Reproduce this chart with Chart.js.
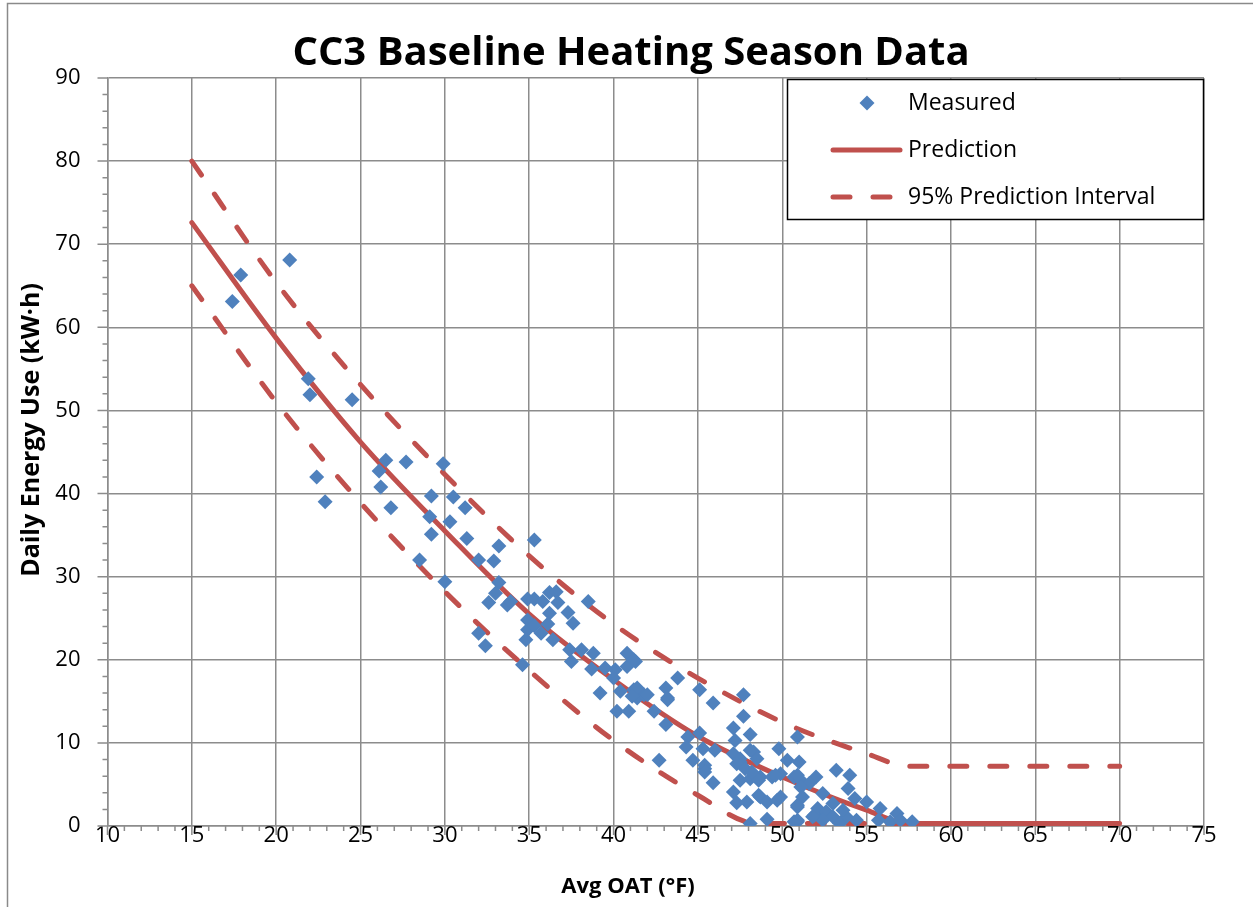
<!DOCTYPE html>
<html>
<head>
<meta charset="utf-8">
<script src="https://cdn.jsdelivr.net/npm/chart.js@4.4.1/dist/chart.umd.min.js"></script>
<style>
html,body{margin:0;padding:0;background:#fff;}
#wrap{width:1253px;height:907px;position:relative;}
</style>
</head>
<body>
<div id="wrap"><canvas id="c" width="1253" height="907"></canvas></div>
<script>
// ---- Data ----
const measuredX = [17.4,17.9,20.8,21.9,22.0,24.5,22.4,22.9,26.5,26.1,
27.7,26.2,26.8,29.2,29.1,29.2,29.9,30.5,31.2,30.3,
31.3,33.2,35.3,28.5,32.0,32.9,30.0,33.2,33.0,32.6,
33.7,33.9,34.9,35.3,35.8,36.2,36.6,36.7,36.2,37.3,
37.6,38.5,34.9,34.9,35.3,35.7,36.1,34.8,36.4,32.0,
32.4,34.6,37.4,38.1,38.8,37.5,38.7,39.5,40.1,40.8,
41.3,40.8,40.0,39.2,40.4,41.2,41.4,41.8,40.2,40.9,
41.2,41.4,41.1,42.0,42.4,43.1,43.1,43.2,43.8,45.1,
45.9,47.7,47.7,47.1,48.1,44.4,45.1,44.3,45.3,46.0,
44.7,42.7,45.4,45.9,47.1,47.5,48.3,48.5,49.8,50.3,
51.0,50.9,52.0,53.2,47.5,48.1,48.7,49.4,49.9,50.7,
51.1,51.6,52.4,47.1,47.3,47.9,48.7,49.1,49.7,49.9,
50.9,50.9,51.9,52.6,48.1,49.1,45.4,45.4,47.2,47.5,
48.1,47.3,47.8,48.2,48.6,49.6,48.6,54.0,53.9,54.3,
55.0,55.8,56.8,55.7,56.4,57.7,57.0,54.4,53.8,50.9,
51.1,51.2,50.9,52.1,52.6,53.0,53.4,52.4,51.8,50.9,
53.0,53.6,50.7,43.2];
const measuredY = [63.1,66.3,68.1,53.8,51.9,51.3,42.0,39.0,44.0,42.7,
43.8,40.8,38.3,39.7,37.2,35.1,43.6,39.6,38.3,36.6,
34.6,33.7,34.4,32.0,32.0,31.9,29.4,29.3,28.0,26.9,
26.6,27.0,27.3,27.3,27.0,28.1,28.2,26.9,25.6,25.7,
24.4,27.0,24.8,23.6,24.1,23.2,24.3,22.4,22.4,23.2,
21.7,19.4,21.2,21.2,20.8,19.8,18.9,19.0,18.8,20.8,
19.8,19.2,17.8,16.0,16.2,16.4,15.4,15.8,13.8,13.8,
20.0,16.6,15.6,15.8,13.8,12.2,16.6,15.4,17.8,16.4,
14.8,15.8,13.2,11.8,11.0,10.7,11.2,9.5,9.3,9.1,
7.9,7.9,6.9,5.2,8.7,7.7,8.9,8.1,9.3,7.9,
7.7,10.7,5.9,6.7,5.5,5.7,5.9,5.9,6.3,5.9,
5.5,5.1,3.9,4.1,2.8,2.9,3.5,2.9,3.1,3.5,
2.3,0.7,1.3,1.5,0.3,0.8,7.3,6.5,10.3,8.1,
9.1,7.5,6.9,6.5,5.5,6.1,3.7,6.1,4.5,3.3,
2.9,2.1,1.5,0.7,0.5,0.5,0.7,0.7,1.1,6.1,
4.7,3.5,2.5,2.1,1.7,1.1,0.3,0.7,1.1,0.5,
2.7,1.9,0.5,15.2];

const predictionX = [15, 20, 25, 30, 35, 40, 45, 50, 55, 57.5, 70];
const predictionY = [72.6, 58.7, 46.2, 35.5, 25.5, 17.6, 10.8, 5.9, 1.9, 0.3, 0.3];

const upperX = [15, 20, 25, 30, 35, 40, 45, 50, 55, 57.5, 70];
const upperY = [80.0, 65.4, 53.1, 42.3, 32.5, 24.3, 17.8, 12.5, 8.7, 7.2, 7.2];

const lowerX = [15, 20, 25, 30, 35, 40, 45, 48.5, 70];
const lowerY = [65.0, 51.0, 38.9, 28.2, 18.7, 10.3, 3.7, 0.3, 0.3];

const xTickValues = [10, 15, 20, 25, 30, 35, 40, 45, 50, 55, 60, 65, 70, 75];
const yTickValues = [0, 10, 20, 30, 40, 50, 60, 70, 80, 90];

const titleText = 'CC3 Baseline Heating Season Data';
const xTitle = 'Avg OAT (°F)';
const yTitle = 'Daily Energy Use (kW·h)';
const seriesLabels = ['Measured', 'Prediction', '95% Prediction Interval'];

// ---- Styles ----
const BLUE = '#4F81BD';
const RED = '#C0504D';
const GRID = '#8c8c8c';
const FONT = "'Open Sans', 'DejaVu Sans', sans-serif";

const pts = (xs, ys) => xs.map((x, i) => ({x: x, y: ys[i]}));

const frameAndTicks = {
  id: 'frameAndTicks',
  beforeDraw(chart) {
    const ctx = chart.ctx;
    ctx.save();
    ctx.fillStyle = '#fff';
    ctx.fillRect(0, 0, chart.width, chart.height);
    ctx.strokeStyle = '#8a8a8a';
    ctx.lineWidth = 1.5;
    ctx.strokeRect(7.5, 3.5, chart.width + 20, chart.height + 20);
    ctx.restore();
  },
  afterDraw(chart) {
    const ctx = chart.ctx;
    const xs = chart.scales.x, ys = chart.scales.y;
    const area = chart.chartArea;
    ctx.save();
    ctx.strokeStyle = GRID;
    ctx.lineWidth = 1.5;
    ctx.beginPath();
    for (let v = xs.min; v <= xs.max + 1e-9; v += 1) {
      const p = xs.getPixelForValue(v);
      const major = Math.abs(v % 5) < 1e-9;
      ctx.moveTo(p, area.bottom);
      ctx.lineTo(p, area.bottom + (major ? 9 : 5));
    }
    for (let v = ys.min; v <= ys.max + 1e-9; v += 2) {
      const p = ys.getPixelForValue(v);
      const major = Math.abs(v % 10) < 1e-9;
      ctx.moveTo(area.left, p);
      ctx.lineTo(area.left - (major ? 10 : 5), p);
    }
    ctx.stroke();

    // titles
    ctx.fillStyle = '#000';
    ctx.textAlign = 'center';
    ctx.textBaseline = 'middle';
    ctx.font = 'bold 40px ' + FONT;
    ctx.fillText(titleText, 631, 54);
    ctx.font = 'bold 22px ' + FONT;
    ctx.fillText(xTitle, 628, 887);
    ctx.save();
    ctx.translate(32, 430);
    ctx.rotate(-Math.PI / 2);
    ctx.font = 'bold 25px ' + FONT;
    ctx.fillText(yTitle, 0, 0);
    ctx.restore();

    // legend box
    const lx = 787.5, ly = 79.5, lw = 416, lh = 140;
    ctx.fillStyle = '#fff';
    ctx.fillRect(lx, ly, lw, lh);
    ctx.strokeStyle = '#000';
    ctx.lineWidth = 1.5;
    ctx.strokeRect(lx, ly, lw, lh);

    const ds = chart.data.datasets;
    Chart.helpers.drawPoint(ctx, {pointStyle: 'rectRot', radius: 7.5, rotation: 0}, 867, 103);
    ctx.fillStyle = ds[0].backgroundColor;
    ctx.fill();
    ctx.lineCap = 'round';
    ctx.strokeStyle = ds[1].borderColor;
    ctx.lineWidth = ds[1].borderWidth;
    ctx.beginPath(); ctx.moveTo(833, 150); ctx.lineTo(900, 150); ctx.stroke();
    ctx.setLineDash(ds[2].borderDash);
    ctx.beginPath(); ctx.moveTo(833, 197); ctx.lineTo(890, 197); ctx.stroke();
    ctx.setLineDash([]);

    ctx.fillStyle = '#000';
    ctx.font = '23px ' + FONT;
    ctx.textBaseline = 'middle';
    ctx.textAlign = 'left';
    ctx.fillText(ds[0].label, 908, 103);
    ctx.fillText(ds[1].label, 908, 150);
    ctx.fillText(ds[2].label, 908, 197);
    ctx.restore();
  }
};

const lineCommon = {
  showLine: true,
  pointRadius: 0,
  pointHoverRadius: 0,
  borderColor: RED,
  backgroundColor: RED,
  borderWidth: 5,
  fill: false,
  cubicInterpolationMode: 'monotone',
  borderCapStyle: 'round',
  borderJoinStyle: 'round'
};

new Chart(document.getElementById('c'), {
  type: 'scatter',
  data: {
    datasets: [
      {
        label: seriesLabels[0],
        data: pts(measuredX, measuredY),
        pointStyle: 'rectRot',
        pointRadius: 7.5,
        pointHoverRadius: 7.5,
        backgroundColor: BLUE,
        borderColor: BLUE,
        borderWidth: 0,
        order: 0
      },
      Object.assign({}, lineCommon, {
        label: seriesLabels[1],
        data: pts(predictionX, predictionY),
        order: 3
      }),
      Object.assign({}, lineCommon, {
        label: seriesLabels[2],
        data: pts(upperX, upperY),
        borderDash: [17, 23],
        order: 2
      }),
      Object.assign({}, lineCommon, {
        label: seriesLabels[2] + ' (lower)',
        data: pts(lowerX, lowerY),
        borderDash: [17, 23],
        order: 2
      })
    ]
  },
  options: {
    responsive: false,
    animation: false,
    devicePixelRatio: 1,
    layout: {padding: {left: 0, right: 49, top: 78, bottom: 0}},
    plugins: {
      legend: {display: false},
      tooltip: {enabled: false},
      title: {display: false}
    },
    scales: {
      x: {
        type: 'linear',
        min: 10, max: 75,
        afterFit: s => { s.height = 81; },
        afterBuildTicks: s => { s.ticks = xTickValues.map(v => ({value: v})); },
        ticks: {color: '#000', font: {family: FONT, size: 22}, padding: -3, maxRotation: 0},
        grid: {color: GRID, lineWidth: 1.5, drawTicks: false},
        border: {display: true, color: GRID, width: 1.5},
        title: {display: false}
      },
      y: {
        type: 'linear',
        min: 0, max: 90,
        afterFit: s => { s.width = 107.5; },
        afterBuildTicks: s => { s.ticks = yTickValues.map(v => ({value: v})); },
        ticks: {color: '#000', font: {family: FONT, size: 22}, padding: 27},
        grid: {color: GRID, lineWidth: 1.5, drawTicks: false},
        border: {display: true, color: GRID, width: 1.5},
        title: {display: false}
      }
    }
  },
  plugins: [frameAndTicks]
});
</script>
</body>
</html>
